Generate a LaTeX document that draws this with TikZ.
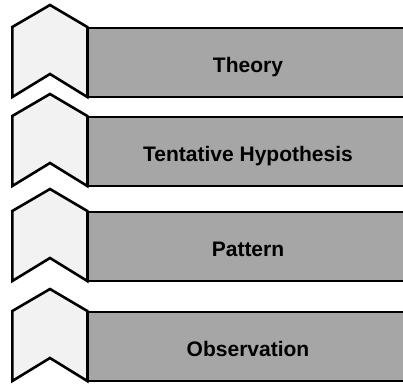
\documentclass[tikz,border=0pt]{standalone}
\usepackage{fontspec}
\setmainfont{Liberation Sans}
\begin{document}
\begin{tikzpicture}[x=1pt,y=-1pt,
  outline/.style={draw=black,line width=2.6pt,line join=miter},
  chev/.style={outline,fill=chevgray},
  bar/.style={outline,fill=bargray},
  label/.style={anchor=base,inner sep=0pt,font=\fontsize{21}{25}\selectfont\bfseries,text=black}]
\definecolor{chevgray}{HTML}{F2F2F2}
\definecolor{bargray}{HTML}{A6A6A6}
\useasboundingbox (0,0) rectangle (403,383);
\clip (0,0) rectangle (403,383);
% one step: bar on the right, chevron on the left; \a = apex y
\foreach \a/\txt/\nm in {5/Theory/theory,94/Tentative Hypothesis/hypothesis,189/Pattern/pattern,289/Observation/observation}{
  \draw[bar] (87.3,\a+23) rectangle (412,\a+92);
  \draw[chev] (12.3,\a+22) -- (50,\a) -- (87.3,\a+22) -- (87.3,\a+92)
    -- (50,\a+69) -- (12.3,\a+92) -- cycle;
  \node[label] (\nm) at (248,\a+67) {\txt};
}
\end{tikzpicture}
\end{document}
